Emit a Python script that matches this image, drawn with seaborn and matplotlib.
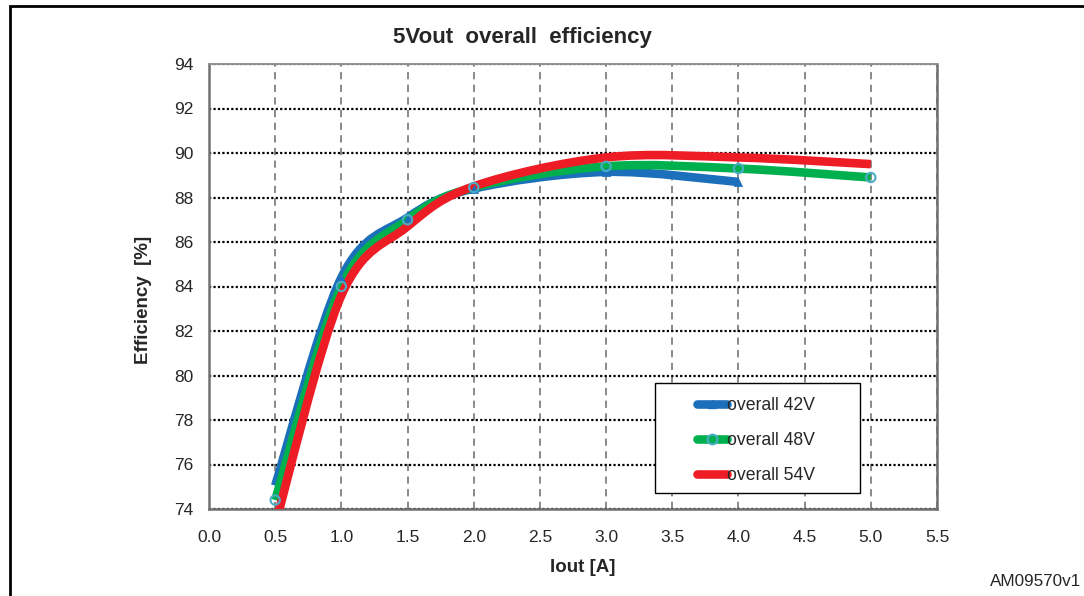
import numpy as np
import pandas as pd
import matplotlib
matplotlib.use("Agg")
import matplotlib.pyplot as plt
from matplotlib.path import Path
from matplotlib.patches import PathPatch, Rectangle
from matplotlib.lines import Line2D
import seaborn as sns

# ---- data ----
x_42 = [0.5, 1.0, 1.5, 2.0, 3.0, 4.0]
y_42 = [75.05, 84.4, 87.1, 88.4, 89.15, 88.7]
x_48 = [0.5, 1.0, 1.5, 2.0, 3.0, 4.0, 5.0]
y_48 = [74.4, 84.0, 87.0, 88.45, 89.4, 89.3, 88.9]
x_54 = [0.5, 1.0, 1.5, 2.0, 3.0, 4.0, 5.0]
y_54 = [73.3, 83.6, 86.7, 88.5, 89.8, 89.8, 89.5]
labels = ["overall 42V", "overall 48V", "overall 54V"]
colors = ["#1c6fba", "#00b04f", "#ee1c25"]
xticks = [0.0, 0.5, 1.0, 1.5, 2.0, 2.5, 3.0, 3.5, 4.0, 4.5, 5.0, 5.5]
yticks = [74, 76, 78, 80, 82, 84, 86, 88, 90, 92, 94]

sns.set_style("white")
plt.rcParams['font.family'] = ['Liberation Sans', 'DejaVu Sans']

W, H = 1084, 596
fig = plt.figure(figsize=(W/100, H/100), dpi=100)
ax = fig.add_axes([209/W, 1-509/H, (937-209)/W, (509-64)/H])

# outer frame (extends past the right/bottom edges)
fig.patches.append(Rectangle((10/W, -0.05), 1.2, 1-6/H+0.05, transform=fig.transFigure,
                             fill=False, edgecolor="black", linewidth=2, clip_on=False))


def smooth_path(xs, ys, t=1/6):
    """Excel-like smoothed line: cubic Bezier through each data point."""
    xs = np.asarray(xs, float); ys = np.asarray(ys, float)
    n = len(xs)
    verts = [(xs[0], ys[0])]
    codes = [Path.MOVETO]
    for i in range(n - 1):
        p0 = np.array([xs[max(i-1, 0)], ys[max(i-1, 0)]])
        p1 = np.array([xs[i], ys[i]])
        p2 = np.array([xs[i+1], ys[i+1]])
        p3 = np.array([xs[min(i+2, n-1)], ys[min(i+2, n-1)]])
        c1 = p1 + (p2 - p0) * t
        c2 = p2 - (p3 - p1) * t
        verts += [tuple(c1), tuple(c2), tuple(p2)]
        codes += [Path.CURVE4] * 3
    return Path(verts, codes)


series = [(x_42, y_42), (x_48, y_48), (x_54, y_54)]
for (xs, ys), c in zip(series, colors):
    patch = PathPatch(smooth_path(xs, ys), facecolor="none", edgecolor=c,
                      linewidth=6.2, capstyle="butt", joinstyle="round", zorder=3)
    ax.add_patch(patch)
    patch.set_clip_path(ax.patch)

df42 = pd.DataFrame({"x": x_42, "y": y_42})
df48 = pd.DataFrame({"x": x_48, "y": y_48})
sns.scatterplot(data=df42.iloc[1:], x="x", y="y", marker="^", s=35, color=colors[0],
                edgecolor=colors[0], ax=ax, zorder=4, legend=False)
sns.scatterplot(data=df48, x="x", y="y", marker="o", s=45, facecolor="none",
                edgecolor="#4bacc6", linewidth=1.5, ax=ax, zorder=5, legend=False)

ax.set_xlim(0, 5.5)
ax.set_ylim(74, 94)
ax.set_xticks(xticks)
ax.set_xticklabels([f"{v:.1f}" for v in xticks], fontsize=12.5)
ax.set_yticks(yticks)
ax.set_yticklabels([str(v) for v in yticks], fontsize=12.5)
ax.tick_params(axis="x", length=0, pad=15)
ax.tick_params(axis="y", length=0, pad=11)

ax.grid(axis="y", color="black", linestyle=(0, (1, 1)), linewidth=1.6, zorder=1)
ax.grid(axis="x", color="#808080", linestyle=(0, (4, 3)), linewidth=1.3, zorder=1)
ax.set_axisbelow(True)

for s in ["left", "bottom", "right"]:
    ax.spines[s].set_color("#707070")
    ax.spines[s].set_linewidth(1.8)
ax.spines["top"].set_color("#909090")
ax.spines["top"].set_linestyle((0, (1, 1)))
ax.spines["top"].set_linewidth(1.4)

fig.text(522/W, 1-37/H, "5Vout  overall  efficiency", fontsize=16, fontweight="bold",
         ha="center", va="center")
ax.set_xlabel("Iout [A]", fontsize=13.5, fontweight="bold")
ax.set_ylabel("Efficiency  [%]", fontsize=13.5, fontweight="bold")
ax.xaxis.set_label_coords((583-209)/728, -(559-509)/445)
ax.yaxis.set_label_coords((152-209)/728, 1-(300-64)/445)

# legend box
ax.add_patch(Rectangle(((655-209)/728, 1-(493-64)/445), (860-655)/728, (493-383)/445,
                       transform=ax.transAxes, facecolor="white", edgecolor="black",
                       linewidth=1.0, zorder=9, clip_on=False))
handles = [
    Line2D([], [], color=colors[0], lw=6.2, marker="^", markersize=6,
           markerfacecolor=colors[0], markeredgecolor=colors[0]),
    Line2D([], [], color=colors[1], lw=6.2, marker="o", markersize=7,
           markerfacecolor=colors[1], markeredgecolor="#4bacc6", markeredgewidth=1.5),
    Line2D([], [], color=colors[2], lw=6.2),
]
leg = ax.legend(handles, labels, loc="upper left",
                bbox_to_anchor=((697-209)/728, 1-(397-64)/445),
                fontsize=12.7, frameon=False, handlelength=1.7, handletextpad=0.0,
                labelspacing=1.03, borderpad=0, borderaxespad=0)
leg.set_zorder(10)

fig.text(1036/W, 1-581/H, "AM09570v1", fontsize=12.3, ha="center", va="center")

fig.savefig("out.png", dpi=100)
